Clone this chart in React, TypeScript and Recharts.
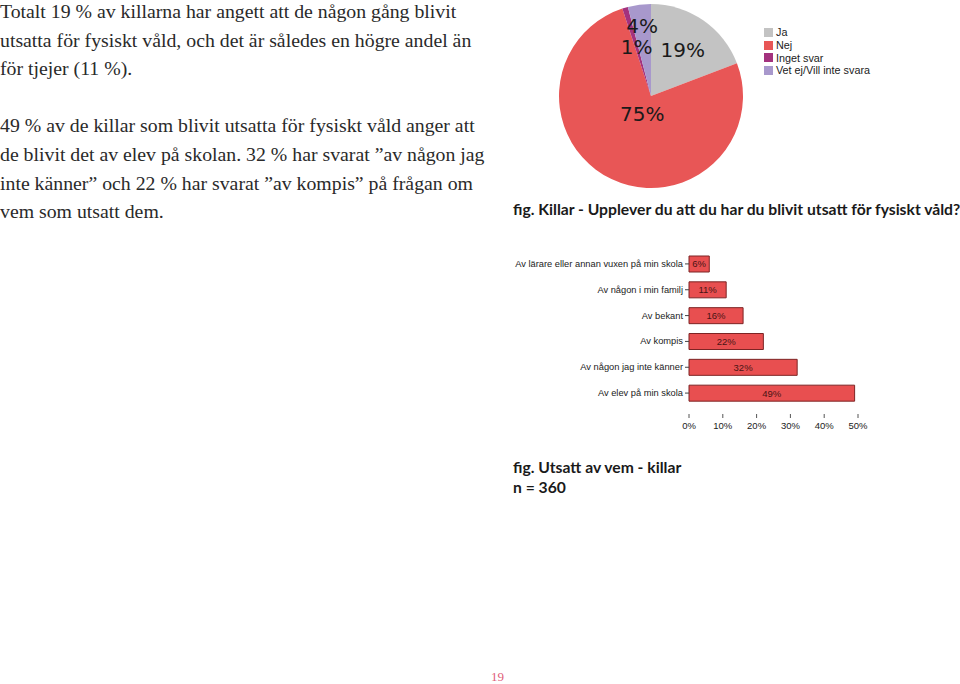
import { PieChart, Pie, Cell, Legend, BarChart, Bar, XAxis, YAxis, LabelList } from 'recharts';

// pie: Killar - Upplever du att du har du blivit utsatt för fysiskt våld?
const answerLabels = ['Ja', 'Nej', 'Inget svar', 'Vet ej/Vill inte svara'];
const answerShares = [19, 75, 1, 4];

// bars: Utsatt av vem - killar
const perpetrators = [
  'Av lärare eller annan vuxen på min skola',
  'Av någon i min familj',
  'Av bekant',
  'Av kompis',
  'Av någon jag inte känner',
  'Av elev på min skola',
];
const perpetratorShares = [6, 11, 16, 22, 32, 49];
const shareTicks = [0, 10, 20, 30, 40, 50];

const bodyLines = [
  'Totalt 19 % av killarna har angett att de någon gång blivit',
  'utsatta för fysiskt våld, och det är således en högre andel än',
  'för tjejer (11 %).',
  '',
  '49 % av de killar som blivit utsatta för fysiskt våld anger att',
  'de blivit det av elev på skolan. 32 % har svarat ”av någon jag',
  'inte känner” och 22 % har svarat ”av kompis” på frågan om',
  'vem som utsatt dem.',
];

const pieColors = ['#c3c3c3', '#e85656', '#a3327e', '#a898cc'];
// excel "best fit" label placement, fraction of radius
const labelRadius = [0.61, 0.22, 0.55, 0.77];
const RADIAN = Math.PI / 180;

const pieData = answerLabels.map((name, i) => ({ name, value: answerShares[i] }));
const barData = perpetrators.map((name, i) => ({ name, share: perpetratorShares[i] }));

const sans = '"Liberation Sans", Arial, sans-serif';
const captionFont = 'Lato, "Liberation Sans", sans-serif';

function PieLabel(props: any) {
  const { cx, cy, midAngle, outerRadius, index, value } = props;
  const r = outerRadius * labelRadius[index];
  const x = cx + r * Math.cos(-midAngle * RADIAN);
  const y = cy + r * Math.sin(-midAngle * RADIAN);
  return (
    <text x={x} y={y} textAnchor="middle" dominantBaseline="central" fontSize={20} fontFamily='"DejaVu Sans", sans-serif' fill="#1a1a1a">
      {value}%
    </text>
  );
}

function PieLegend() {
  return (
    <div>
      {answerLabels.map((name, i) => (
        <div key={name} style={{ display: 'flex', alignItems: 'center', height: 12.7, fontFamily: sans, fontSize: 10.8, color: '#222', whiteSpace: 'nowrap' }}>
          <span style={{ display: 'inline-block', width: 9, height: 9, background: pieColors[i], marginRight: 3 }} />
          {name}
        </div>
      ))}
    </div>
  );
}

function ShareTick(props: any) {
  const { x, y, payload } = props;
  return (
    <g>
      <line x1={x} y1={y} x2={x} y2={y + 4} stroke="#555" />
      <text x={x} y={y + 15} textAnchor="middle" fontSize={9.5} fontFamily={sans} fill="#222">
        {payload.value}%
      </text>
    </g>
  );
}

function NameTick(props: any) {
  const { x, y, payload } = props;
  return (
    <text x={x} y={y} textAnchor="end" dominantBaseline="central" fontSize={9.3} fontFamily={sans} fill="#222">
      {payload.value}
    </text>
  );
}

export default function App() {
  return (
    <div style={{ position: 'absolute', left: 0, top: 0, width: 960, height: 684, background: '#fff', overflow: 'hidden' }}>
      <div style={{ position: 'absolute', left: 0, top: -3, fontFamily: '"Liberation Serif", serif', fontSize: 19.8, lineHeight: '28.6px', color: '#2a2a2a', whiteSpace: 'nowrap' }}>
        {bodyLines.map((line, i) => (
          <div key={i} style={{ height: 28.6 }}>{line}</div>
        ))}
      </div>

      <div style={{ position: 'absolute', left: 551, top: -4 }}>
        <PieChart width={340} height={200} margin={{ top: 0, right: 0, bottom: 0, left: 0 }}>
          <Pie
            data={pieData}
            dataKey="value"
            nameKey="name"
            cx={100}
            cy={100}
            outerRadius={92}
            startAngle={90}
            endAngle={-270}
            stroke="none"
            label={PieLabel}
            labelLine={false}
            isAnimationActive={false}
          >
            {pieData.map((d, i) => (
              <Cell key={d.name} fill={pieColors[i]} />
            ))}
          </Pie>
          <Legend
            layout="vertical"
            align="right"
            verticalAlign="top"
            content={PieLegend}
            wrapperStyle={{ left: 213, top: 30, width: 130, right: 'auto' }}
          />
        </PieChart>
      </div>

      <div style={{ position: 'absolute', left: 513, top: 200, fontFamily: captionFont, fontWeight: 700, fontSize: 15.7, color: '#1a1a1a', whiteSpace: 'nowrap' }}>
        fig. Killar - Upplever du att du har du blivit utsatt för fysiskt våld?
      </div>

      <div style={{ position: 'absolute', left: 500, top: 251 }}>
        <BarChart width={380} height={185} data={barData} layout="vertical" margin={{ top: 0, right: 22, bottom: 0, left: 0 }}>
          <XAxis
            type="number"
            dataKey="share"
            domain={[0, 50]}
            ticks={shareTicks}
            axisLine={false}
            tickLine={false}
            tickSize={6}
            tickMargin={2}
            height={30}
            tick={ShareTick}
          />
          <YAxis
            type="category"
            dataKey="name"
            width={189}
            axisLine={false}
            tickSize={4}
            tickMargin={2}
            tickLine={{ stroke: '#444' }}
            tick={NameTick}
            interval={0}
          />
          <Bar dataKey="share" fill="#e84f50" stroke="#7d2424" strokeWidth={1} barSize={16} isAnimationActive={false}>
            <LabelList dataKey="share" position="center" formatter={(v: any) => `${v}%`} fontSize={9.5} fontFamily={sans} fill="#4a1414" />
          </Bar>
        </BarChart>
      </div>

      <div style={{ position: 'absolute', left: 513, top: 457, fontFamily: captionFont, fontWeight: 700, fontSize: 15.7, lineHeight: '20px', color: '#1a1a1a', whiteSpace: 'nowrap' }}>
        <div>fig. Utsatt av vem - killar</div>
        <div>n = 360</div>
      </div>

      <div style={{ position: 'absolute', left: 491, top: 669, fontFamily: '"Liberation Serif", serif', fontSize: 13, color: '#e0607a' }}>
        19
      </div>
    </div>
  );
}
